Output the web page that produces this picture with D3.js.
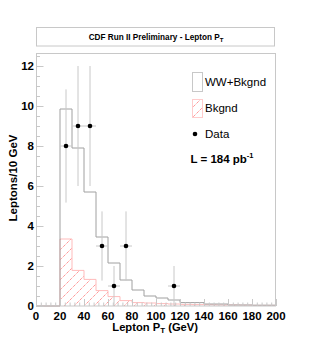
<!DOCTYPE html>
<html>
<head>
<meta charset="utf-8">
<script src="https://cdn.jsdelivr.net/npm/d3@7"></script>
<style>
  body { margin: 0; background: #fff; }
  text { font-family: "Liberation Sans", Arial, Helvetica, sans-serif; }
</style>
</head>
<body>
<svg id="chart" width="312" height="360"></svg>
<script>
// bin low edges (GeV), 10 GeV wide
var binLow = [0,10,20,30,40,50,60,70,80,90,100,110,120,130,140,150,160,170,180,190];
var wwBkgnd = [0,0,9.85,7.9,5.7,3.45,2.15,1.3,0.8,0.5,0.4,0.3,0.17,0.17,0.1,0.1,0.05,0.05,0.04,0.04];
var bkgnd  = [0,0,3.35,1.78,1.33,0.77,0.47,0.27,0.17,0.15,0.12,0.1,0.08,0.07,0.06,0.05,0.05,0.04,0.03,0.03];

var dataX = [25,35,45,55,65,75,115];
var dataY = [8,9,9,3,1,3,1];
var dataErr = [2.83,3,3,1.73,1,1.73,1];

var xTicks = [0,20,40,60,80,100,120,140,160,180,200];
var yTicks = [0,2,4,6,8,10,12];

var svg = d3.select("#chart");
var FRAME = "#c8c8c8";

var x = d3.scaleLinear().domain([0,200]).range([36,276]);
var y = d3.scaleLinear().domain([0,12.65]).range([306,53]);

// hatch pattern for background
var defs = svg.append("defs");
var pat = defs.append("pattern")
    .attr("id","hatch")
    .attr("patternUnits","userSpaceOnUse")
    .attr("width",10).attr("height",10);
pat.append("line")
    .attr("x1",0).attr("y1",10).attr("x2",10).attr("y2",0)
    .attr("stroke","#ff5a5a").attr("stroke-width",0.9)
    .attr("stroke-dasharray","1,1");

// title box
svg.append("rect")
    .attr("x",36.5).attr("y",27.5).attr("width",238).attr("height",18.5)
    .attr("fill","none").attr("stroke",FRAME);
var title = svg.append("text")
    .attr("x",156).attr("y",39.5)
    .attr("text-anchor","middle")
    .attr("font-size",8.2).attr("font-weight","bold")
    .text("CDF Run II Preliminary - Lepton P");
title.append("tspan").attr("font-size",6).attr("dy",2).text("T");

// histogram outline as step path
function stepPts(vals) {
    var pts = [];
    for (var i = 0; i < binLow.length; i++) pts.push([binLow[i], vals[i]]);
    pts.push([200, vals[vals.length-1]]);
    return pts;
}
var step = d3.line()
    .x(function(d){return x(d[0]);})
    .y(function(d){return y(d[1]);})
    .curve(d3.curveStepAfter);

var bkPts = stepPts(bkgnd);
var area = d3.area()
    .x(function(d){return x(d[0]);})
    .y0(y(0))
    .y1(function(d){return y(d[1]);})
    .curve(d3.curveStepAfter);

svg.append("path").datum(bkPts)
    .attr("d",area)
    .attr("fill","url(#hatch)");
svg.append("path").datum(bkPts)
    .attr("d",step)
    .attr("fill","none").attr("stroke","#fbb").attr("stroke-width",1);

svg.append("path").datum(stepPts(wwBkgnd))
    .attr("d",step)
    .attr("fill","none").attr("stroke","#a0a0a0").attr("stroke-width",1);

// data points with error bars
var pts = dataX.map(function(d,i){return {x:d, y:dataY[i], e:dataErr[i]};});
var g = svg.append("g");
g.selectAll(".ev").data(pts).enter().append("line")
    .attr("x1",function(d){return x(d.x);})
    .attr("x2",function(d){return x(d.x);})
    .attr("y1",function(d){return y(d.y - d.e);})
    .attr("y2",function(d){return y(d.y + d.e);})
    .attr("stroke","#c8c8c8").attr("stroke-width",1);
g.selectAll(".eh").data(pts).enter().append("line")
    .attr("x1",function(d){return x(d.x - 5);})
    .attr("x2",function(d){return x(d.x + 5);})
    .attr("y1",function(d){return y(d.y);})
    .attr("y2",function(d){return y(d.y);})
    .attr("stroke","#c8c8c8").attr("stroke-width",1);
g.selectAll("circle").data(pts).enter().append("circle")
    .attr("cx",function(d){return x(d.x);})
    .attr("cy",function(d){return y(d.y);})
    .attr("r",2.3).attr("fill","#000");

// frame
svg.append("rect")
    .attr("x",36.5).attr("y",53.5).attr("width",239).attr("height",252.5)
    .attr("fill","none").attr("stroke",FRAME);

// x axis ticks (inward)
var xMinor = d3.range(0,201,4);
svg.selectAll(".xmin").data(xMinor).enter().append("line")
    .attr("x1",function(d){return x(d)+0.5;}).attr("x2",function(d){return x(d)+0.5;})
    .attr("y1",306).attr("y2",function(d){return d % 20 === 0 ? 299 : 302.5;})
    .attr("stroke",FRAME);
svg.selectAll(".xlab").data(xTicks).enter().append("text")
    .attr("x",function(d){return x(d);})
    .attr("y",319.5)
    .attr("text-anchor","middle")
    .attr("font-size",11.5).attr("font-weight","bold")
    .text(function(d){return d;});

// y axis ticks (inward)
var yMinor = d3.range(0,12.51,0.5);
svg.selectAll(".ymin").data(yMinor).enter().append("line")
    .attr("x1",36.5).attr("x2",function(d){return d % 2 === 0 ? 43.5 : 40;})
    .attr("y1",function(d){return y(d)+0.5;}).attr("y2",function(d){return y(d)+0.5;})
    .attr("stroke",FRAME);
svg.selectAll(".ylab").data(yTicks).enter().append("text")
    .attr("x",34)
    .attr("y",function(d){return y(d)+4;})
    .attr("text-anchor","end")
    .attr("font-size",11.5).attr("font-weight","bold")
    .text(function(d){return d;});

// axis titles
var xt = svg.append("text")
    .attr("x",198).attr("y",330.5)
    .attr("text-anchor","end")
    .attr("font-size",11.2).attr("font-weight","bold")
    .text("Lepton P");
xt.append("tspan").attr("font-size",8).attr("dy",2.5).text("T");
xt.append("tspan").attr("dy",-2.5).text(" (GeV)");

svg.append("text")
    .attr("transform","translate(17,178) rotate(-90)")
    .attr("text-anchor","middle")
    .attr("font-size",11.5).attr("font-weight","bold")
    .text("Leptons/10 GeV");

// legend
var leg = svg.append("g");
leg.append("rect").attr("x",192.5).attr("y",72.5).attr("width",10).attr("height",19)
    .attr("fill","#fff").attr("stroke",FRAME);
leg.append("text").attr("x",205).attr("y",86)
    .attr("font-size",11.5).text("WW+Bkgnd");
leg.append("rect").attr("x",192.5).attr("y",99.5).attr("width",10).attr("height",18)
    .attr("fill","url(#hatch)").attr("stroke","#fcc");
leg.append("text").attr("x",205).attr("y",112)
    .attr("font-size",11.5).text("Bkgnd");
leg.append("circle").attr("cx",195).attr("cy",134).attr("r",2.3).attr("fill","#000");
leg.append("text").attr("x",205).attr("y",137.5)
    .attr("font-size",11.5).text("Data");
var lum = leg.append("text").attr("x",190.5).attr("y",163)
    .attr("font-size",11.5).attr("font-weight","bold")
    .text("L = 184 pb");
lum.append("tspan").attr("font-size",7.5).attr("dy",-5).text("-1");
</script>
</body>
</html>
